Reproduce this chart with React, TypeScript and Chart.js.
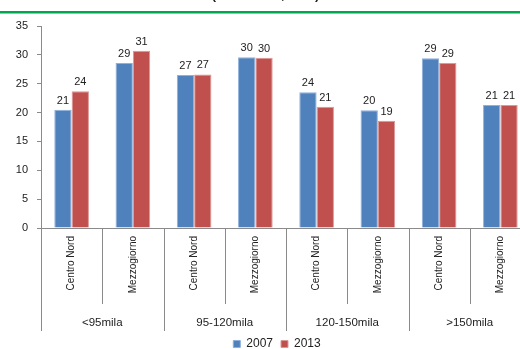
import React, { useEffect, useRef } from "react";
import { Chart, registerables } from "chart.js";

Chart.register(...registerables);

const groups = ["<95mila", "95-120mila", "120-150mila", ">150mila"];
const subCategories = ["Centro Nord", "Mezzogiorno"];
const labels = groups.flatMap(() => subCategories);
const series2007 = [20.5, 28.6, 26.5, 29.6, 23.5, 20.4, 29.4, 21.3];
const series2013 = [23.7, 30.7, 26.6, 29.5, 21.0, 18.6, 28.6, 21.3];
const yTicks = [0, 5, 10, 15, 20, 25, 30, 35];
const titleText = "(valori in %, anni)";

const FONT = "'Liberation Sans', Arial, sans-serif";
const W = 554;
const H = 360;

const decorPlugin = {
  id: "decor",
  afterDraw(chart: any) {
    const ctx = chart.ctx;
    const xs = chart.scales.x;
    const bottom = chart.chartArea.bottom;
    const n = labels.length;
    const slot = xs.width / n;
    ctx.save();
    ctx.fillStyle = "#00A651";
    ctx.fillRect(0, 11, W, 2.5);
    ctx.fillStyle = "#222";
    ctx.font = "bold 13px " + FONT;
    ctx.textBaseline = "alphabetic";
    ctx.textAlign = "left";
    const pre = ctx.measureText("(valori in %").width;
    ctx.fillText(titleText, 281 - pre, -1);
    ctx.strokeStyle = "#8a8a8a";
    ctx.lineWidth = 1;
    for (let i = 0; i <= n; i++) {
      const px = Math.round(xs.left + i * slot) + 0.5;
      const len = i % subCategories.length === 0 ? 103 : 76;
      ctx.beginPath();
      ctx.moveTo(px, bottom);
      ctx.lineTo(px, bottom + len);
      ctx.stroke();
    }
    ctx.fillStyle = "#222";
    ctx.font = "11.5px " + FONT;
    ctx.textAlign = "center";
    ctx.textBaseline = "middle";
    groups.forEach((g, gi) => {
      const cx = xs.left + (gi * subCategories.length + subCategories.length / 2) * slot;
      ctx.fillText(g, cx, bottom + 95);
    });
    ctx.restore();
  },
  afterDatasetsDraw(chart: any) {
    const ctx = chart.ctx;
    ctx.save();
    ctx.fillStyle = "#222";
    ctx.font = "11px " + FONT;
    ctx.textAlign = "center";
    ctx.textBaseline = "alphabetic";
    chart.data.datasets.forEach((ds: any, di: number) => {
      const meta = chart.getDatasetMeta(di);
      meta.data.forEach((bar: any, i: number) => {
        ctx.fillText(String(Math.round(ds.data[i])), bar.x, bar.y - 6);
      });
    });
    ctx.restore();
  },
};

export default function App() {
  const ref = useRef<HTMLCanvasElement>(null);
  useEffect(() => {
    if (!ref.current) return;
    const chart = new Chart(ref.current, {
      type: "bar",
      data: {
        labels,
        datasets: [
          {
            label: "2007",
            data: series2007,
            backgroundColor: "#4F81BD",
            borderColor: "#8FB0D8",
            borderWidth: 1,
          },
          {
            label: "2013",
            data: series2013,
            backgroundColor: "#C0504D",
            borderColor: "#DC9896",
            borderWidth: 1,
          },
        ],
      },
      options: {
        animation: false,
        responsive: false,
        devicePixelRatio: 1,
        layout: { padding: { top: 26, left: 0, right: 0, bottom: 0 } },
        datasets: { bar: { categoryPercentage: 0.566, barPercentage: 1 } },
        plugins: {
          legend: {
            position: "bottom",
            labels: {
              boxWidth: 7,
              boxHeight: 7,
              padding: 8,
              color: "#222",
              font: { family: FONT, size: 12 },
            },
          },
          tooltip: { enabled: false },
        },
        scales: {
          x: {
            type: "category",
            grid: { display: false, drawTicks: false },
            border: { display: true, color: "#8a8a8a", width: 1 },
            ticks: {
              autoSkip: false,
              minRotation: 90,
              maxRotation: 90,
              padding: 8,
              color: "#222",
              font: { family: FONT, size: 10 },
            },
            afterFit(scale: any) {
              scale.height = 102;
            },
          },
          y: {
            min: 0,
            max: 35,
            afterBuildTicks(scale: any) {
              scale.ticks = yTicks.map((v) => ({ value: v }));
            },
            grid: { drawOnChartArea: false, drawTicks: true, tickLength: 4, color: "#8a8a8a" },
            border: { display: true, color: "#8a8a8a", width: 1 },
            ticks: {
              padding: 9,
              color: "#222",
              font: { family: FONT, size: 11 },
            },
            afterFit(scale: any) {
              scale.width = 41;
            },
          },
          spacer: {
            type: "linear",
            position: "right",
            display: true,
            grid: { display: false, drawTicks: false },
            border: { display: false },
            ticks: { display: false },
            afterFit(scale: any) {
              scale.width = 23;
            },
          },
        },
      },
      plugins: [decorPlugin],
    });
    return () => chart.destroy();
  }, []);
  return (
    <div
      style={{
        position: "fixed",
        left: 0,
        top: 0,
        width: 520,
        height: 349,
        overflow: "hidden",
        background: "#fff",
      }}
    >
      <canvas ref={ref} width={W} height={H} style={{ display: "block", width: W, height: H }} />
    </div>
  );
}
